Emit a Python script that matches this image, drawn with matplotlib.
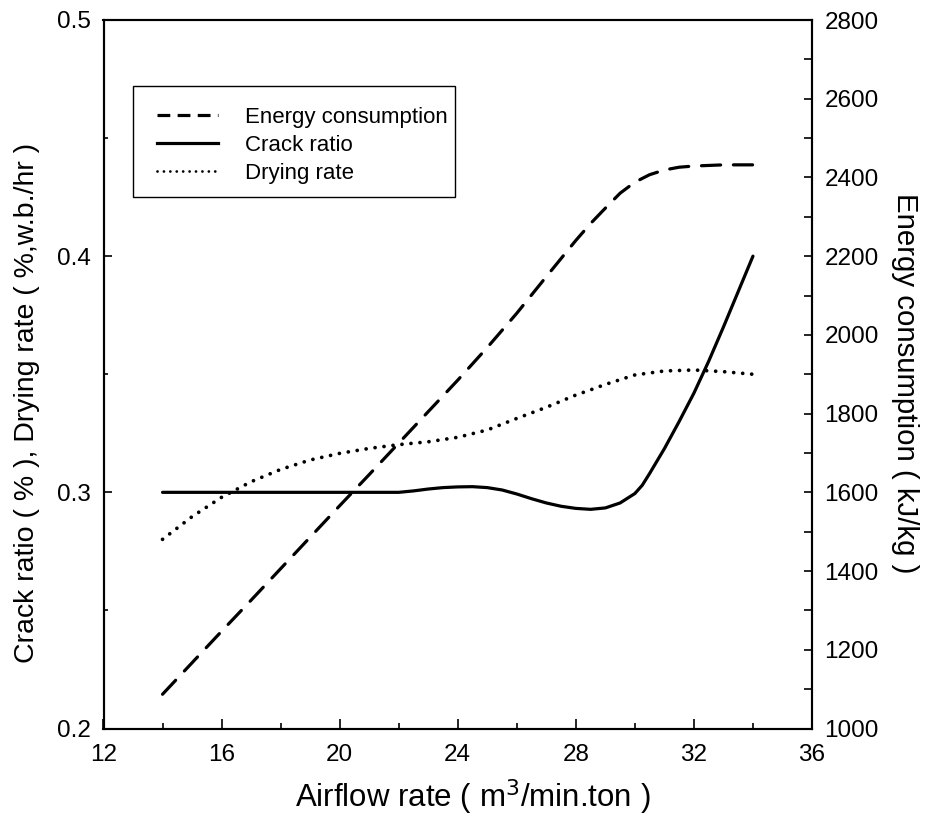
import matplotlib
matplotlib.use("Agg")
import matplotlib.pyplot as plt
from matplotlib.ticker import MultipleLocator
from matplotlib.lines import Line2D
from matplotlib.patches import Rectangle

plt.rcParams['font.family'] = ['Liberation Sans', 'DejaVu Sans']

# Data
energy_x = [14, 15, 16, 17, 18, 19, 20, 21, 22, 23, 24, 25, 26, 27, 28, 28.5, 29, 29.5, 30,
            30.5, 31, 31.5, 32, 33, 34]
energy = [1087, 1167, 1247, 1326, 1406, 1486, 1566, 1645, 1725, 1805, 1885, 1968, 2055, 2148,
          2240, 2283, 2322, 2360, 2388, 2407, 2419, 2426, 2429, 2432, 2432]

crack_x = [14, 16, 18, 20, 22, 22.5, 23, 23.5, 24, 24.5, 25, 25.5, 26, 26.5, 27, 27.5, 28, 28.5,
           29, 29.5, 30, 30.25, 30.5, 31, 31.5, 32, 32.5, 33, 33.5, 34]
crack = [0.300, 0.300, 0.300, 0.300, 0.300, 0.3006, 0.3014, 0.3020, 0.3023, 0.3024, 0.3020,
         0.3010, 0.2993, 0.2973, 0.2955, 0.2941, 0.2932, 0.2928, 0.2934, 0.2955, 0.2995, 0.3030,
         0.3080, 0.3185, 0.3300, 0.3420, 0.3555, 0.3700, 0.3850, 0.400]

drying_x = [14, 15, 16, 17, 18, 19, 20, 21, 22, 23, 24, 25, 26, 27, 28, 28.5, 29, 30, 31, 32, 33, 34]
drying = [0.2801, 0.2897, 0.2979, 0.3045, 0.3097, 0.3137, 0.3165, 0.3186, 0.3202, 0.3214, 0.3233,
          0.3264, 0.3313, 0.3360, 0.3412, 0.3434, 0.3457, 0.3497, 0.3514, 0.3518, 0.3511, 0.3500]

xticks = [12, 16, 20, 24, 28, 32, 36]
lticks = [0.2, 0.3, 0.4, 0.5]
rticks = [1000, 1200, 1400, 1600, 1800, 2000, 2200, 2400, 2600, 2800]
labels = ['Energy consumption', 'Crack ratio', 'Drying rate']

W, H = 930, 834
fig = plt.figure(figsize=(W / 100, H / 100), dpi=100)
ax = fig.add_axes([103.5 / W, 1 - 728.5 / H, (812 - 103.5) / W, (728.5 - 20) / H])
ax2 = ax.twinx()

lw = 2.3
dash = (0, (6.0, 4.0))
dots = (0, (0.01, 2.4))
ax.plot(crack_x, crack, color='black', lw=lw, solid_capstyle='round', solid_joinstyle='round')
ax.plot(drying_x, drying, color='black', lw=2.7, linestyle=dots, dash_capstyle='round')
ax2.plot(energy_x, energy, color='black', lw=lw, linestyle=dash, dash_capstyle='round')

ax.set_xlim(12, 36)
ax.set_ylim(0.2, 0.5)
ax2.set_ylim(1000, 2800)
ax.set_xticks(xticks)
ax.set_xticklabels([str(v) for v in xticks])
ax.xaxis.set_minor_locator(MultipleLocator(2))
ax.set_yticks(lticks)
ax.set_yticklabels([f"{v:.1f}" for v in lticks])
ax.yaxis.set_minor_locator(MultipleLocator(0.05))
ax2.set_yticks(rticks)
ax2.set_yticklabels([str(v) for v in rticks])
ax2.yaxis.set_minor_locator(MultipleLocator(100))

for a in (ax, ax2):
    for s in a.spines.values():
        s.set_linewidth(1.5)
    a.tick_params(which='both', direction='in', labelsize=17.5, width=1.2)
ax.tick_params(axis='x', which='major', length=7.5, top=False, pad=11)
ax.tick_params(axis='x', which='minor', length=4.5, top=False)
ax.tick_params(axis='y', which='major', length=5.5, right=False, pad=9)
ax.tick_params(axis='y', which='minor', length=3.2, right=False)
ax2.tick_params(axis='y', which='major', length=5.5, pad=9)
ax2.tick_params(axis='y', which='minor', length=5.5)

fig.text(473 / W, 1 - 797 / H, r'Airflow rate ( m$^3$/min.ton )',
         ha='center', va='center', fontsize=22.5)
fig.text(27 / W, 1 - 403 / H, 'Crack ratio ( % ), Drying rate ( %,w.b./hr )',
         ha='center', va='center', rotation=90, fontsize=20.5)
fig.text(905 / W, 1 - 383 / H, 'Energy consumption ( kJ/kg )',
         ha='center', va='center', rotation=-90, fontsize=21.2)

# legend frame
fig.patches.append(Rectangle((133 / W, 1 - 197 / H), (455 - 133) / W, (197 - 86) / H,
                             transform=fig.transFigure, fill=False, edgecolor='black',
                             linewidth=1.0, zorder=5))
handles = [
    Line2D([], [], color='black', lw=lw, linestyle=(0, (4.0, 2.3)), dash_capstyle='butt'),
    Line2D([], [], color='black', lw=lw),
    Line2D([], [], color='black', lw=2.0, linestyle=(0, (0.01, 2.3)), dash_capstyle='round'),
]
leg = fig.legend(handles, labels, loc='upper left',
                 bbox_to_anchor=(157 / W, 1 - 107 / H),
                 fontsize=16, frameon=False,
                 handlelength=2.75, handletextpad=1.2, labelspacing=0.32, borderpad=0.0,
                 borderaxespad=0)

fig.savefig('out.png', dpi=100)
